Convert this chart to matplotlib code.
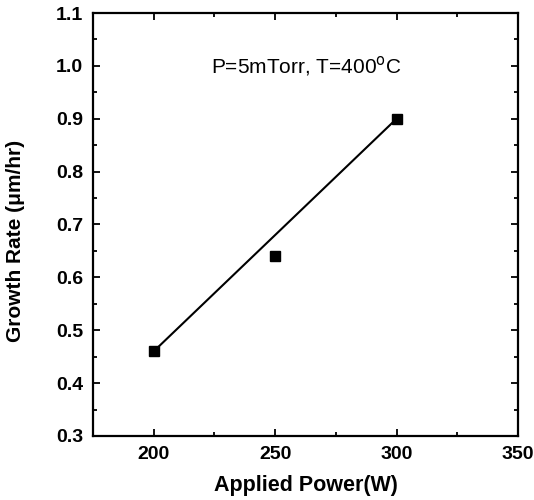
import matplotlib
matplotlib.use('Agg')
import matplotlib.pyplot as plt
from matplotlib.ticker import MultipleLocator

# measured growth rate vs applied power
power = [200, 250, 300]
growth_rate = [0.46, 0.64, 0.90]

# guide line drawn through the data
line_x = [200, 300]
line_y = [0.46, 0.90]

plt.rcParams['font.family'] = ['Liberation Sans', 'DejaVu Sans']

fig = plt.figure(figsize=(5.34, 5.0), dpi=100)
ax = fig.add_axes([0.174, 0.128, 0.796, 0.846])

ax.plot(line_x, line_y, color='black', lw=1.5)
ax.plot(power, growth_rate, 's', color='black', markersize=7)

ax.set_xlim(175, 350)
ax.set_ylim(0.3, 1.1)
ax.xaxis.set_major_locator(MultipleLocator(50))
ax.xaxis.set_minor_locator(MultipleLocator(25))
ax.yaxis.set_major_locator(MultipleLocator(0.1))
ax.yaxis.set_minor_locator(MultipleLocator(0.05))
ax.yaxis.set_major_formatter(plt.FormatStrFormatter('%.1f'))

ax.tick_params(which='both', direction='in', top=True, right=True, width=1.3)
ax.tick_params(which='major', length=5, labelsize=14, pad=7)
ax.tick_params(which='minor', length=3)
for lbl in ax.get_xticklabels() + ax.get_yticklabels():
    lbl.set_fontweight('bold')
for s in ax.spines.values():
    s.set_linewidth(1.6)

ax.set_xlabel('Applied Power(W)', fontsize=15.5, fontweight='bold', labelpad=9)
ax.set_ylabel('Growth Rate (\u03bcm/hr)', fontsize=15, fontweight='bold')
ax.yaxis.set_label_coords(-0.16, 0.46)

ax.text(263, 1.0, r'P=5mTorr, T=400$^{\rm o}$C', fontsize=15, ha='center', va='center')

fig.savefig('out.png', dpi=100)
